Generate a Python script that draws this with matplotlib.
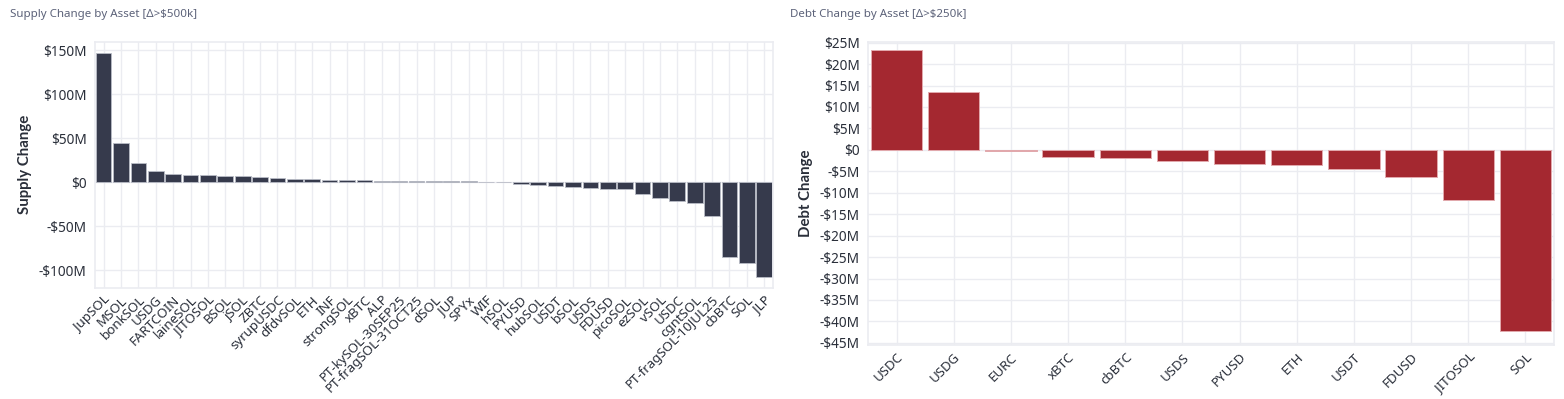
import numpy as np
import matplotlib
matplotlib.use("Agg")
from matplotlib import pyplot as plt
from matplotlib.ticker import FuncFormatter

plt.rcParams['font.family'] = ['Noto Sans', 'DejaVu Sans']

# supply change by asset (millions USD)
supply_assets = ["JupSOL", "MSOL", "bonkSOL", "USDG", "FARTCOIN", "laineSOL", "JITOSOL", "BSOL",
                 "jSOL", "ZBTC", "syrupUSDC", "dfdvSOL", "ETH", "INF", "strongSOL", "xBTC", "ALP",
                 "PT-kySOL-30SEP25", "PT-fragSOL-31OCT25", "dSOL", "JUP", "SPYx", "WIF", "hSOL",
                 "PYUSD", "hubSOL", "USDT", "bSOL", "USDS", "FDUSD", "picoSOL", "ezSOL", "vSOL",
                 "USDC", "cgntSOL", "PT-fragSOL-10JUL25", "cbBTC", "SOL", "JLP"]
supply_change = [146.6, 44.7, 21.6, 13.3, 9.5, 8.3, 8.0, 7.6,
                 7.2, 5.7, 4.5, 3.8, 3.4, 3.0, 2.7, 2.5, 1.9,
                 1.7, 1.5, 1.3, 1.0, 0.9, 0.7, 0.6,
                 -2.3, -3.4, -4.2, -5.7, -6.8, -7.2, -8.0, -13.6, -17.4,
                 -21.6, -23.0, -37.8, -84.8, -91.6, -108.0]

# debt change by asset (millions USD)
debt_assets = ["USDC", "USDG", "EURC", "xBTC", "cbBTC", "USDS", "PYUSD", "ETH", "USDT",
               "FDUSD", "JITOSOL", "SOL"]
debt_change = [23.2, 13.6, -0.3, -1.7, -1.9, -2.6, -3.3, -3.6, -4.35, -6.3, -11.7, -42.3]

grid_col = "#ebecf1"
txt_col = "#2a2f3a"


def money(v, pos):
    v = int(round(v))
    if v == 0:
        return "$0"
    if v < 0:
        return "-$%dM" % (-v)
    return "$%dM" % v


def style_ax(ax, cats):
    ax.set_xticks(np.arange(len(cats)))
    ax.set_xticklabels(cats, rotation=45, ha='right', rotation_mode='anchor',
                       fontsize=9.6, color=txt_col)
    ax.tick_params(axis='y', labelsize=9.8, labelcolor=txt_col, length=0, pad=6)
    ax.tick_params(axis='x', length=0, pad=4)
    ax.yaxis.set_major_formatter(FuncFormatter(money))
    ax.grid(True, color=grid_col, linewidth=1)
    ax.set_axisbelow(True)
    for s in ax.spines.values():
        s.set_color(grid_col)
        s.set_linewidth(1.2)


fig = plt.figure(figsize=(15.64, 3.99), dpi=100)

ax1 = fig.add_axes([0.0607, 0.2782, 0.4335, 0.6173])
x1 = np.arange(len(supply_assets))
ax1.bar(x1, supply_change, width=0.9, color="#363a4c", edgecolor="#b9bcc6", linewidth=0.6)
ax1.set_xlim(-0.5, len(supply_assets) - 0.5)
ax1.set_ylim(-120, 159.5)
ax1.set_yticks([-100, -50, 0, 50, 100, 150])
style_ax(ax1, supply_assets)
ax1.set_ylabel("Supply Change", fontsize=10.8, fontweight='bold', color=txt_col, labelpad=5,
               family=['Lato', 'DejaVu Sans'])

ax2 = fig.add_axes([0.555, 0.1353, 0.4386, 0.760])
x2 = np.arange(len(debt_assets))
ax2.bar(x2, debt_change, width=0.9, color="#a42830", edgecolor="#e2a9ad", linewidth=0.7)
ax2.set_xlim(-0.5, len(debt_assets) - 0.5)
ax2.set_ylim(-45.5, 25.2)
ax2.set_yticks(np.arange(-45, 26, 5))
style_ax(ax2, debt_assets)
ax2.set_ylabel("Debt Change", fontsize=10.8, fontweight='bold', color=txt_col, labelpad=5,
               family=['Lato', 'DejaVu Sans'])

fig.text(10 / 1564, 1 - 15 / 399, "Supply Change by Asset [Δ>$500k]", fontsize=8.3,
         color="#5c6279", va='center', ha='left')
fig.text(790 / 1564, 1 - 15 / 399, "Debt Change by Asset [Δ>$250k]", fontsize=8.3,
         color="#5c6279", va='center', ha='left')

fig.savefig("out.png", dpi=100)
